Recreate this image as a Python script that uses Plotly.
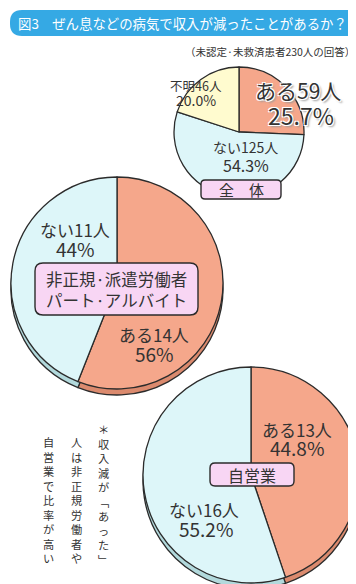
import plotly.graph_objects as go

W, H = 356, 584

# ---- data ----
total_cats = ["ある", "ない", "不明"]
total_counts = [59, 125, 46]
total_pcts = ["25.7%", "54.3%", "20.0%"]

irregular_cats = ["ある", "ない"]
irregular_counts = [14, 11]
irregular_pcts = ["56%", "44%"]

self_cats = ["ある", "ない"]
self_counts = [13, 16]
self_pcts = ["44.8%", "55.2%"]

title_text = "図3　ぜん息などの病気で収入が減ったことがあるか？"
subtitle_text = "（未認定·未救済患者230人の回答）"
group_names = ["全　体", "非正規·派遣労働者<br>パート·アルバイト", "自営業"]
note_cols = ["＊収入減が﹁あった﹂", "人は非正規労働者や", "自営業で比率が高い"]

# ---- style ----
FONT = "Noto Sans CJK JP, Noto Sans, sans-serif"
TXT = "#333333"
COL = {"ある": "#F5A78B", "ない": "#DDF6F9", "不明": "#FFFBCF"}
SHD = {"ある": "#DB8A6E", "ない": "#B2D9DC", "不明": "#E5E0A8"}
OUT = "#2b2b2b"


def dom(cx, cy, r):
    return dict(x=[(cx - r) / W, (cx + r) / W], y=[1 - (cy + r) / H, 1 - (cy - r) / H])


def pie(cats, vals, cx, cy, r, shadow=False):
    cmap = SHD if shadow else COL
    return go.Pie(
        labels=cats, values=vals, sort=False, direction="clockwise", rotation=0,
        marker=dict(colors=[cmap[c] for c in cats], line=dict(color=OUT, width=1.3)),
        textinfo="none", hoverinfo="skip", showlegend=False,
        domain=dom(cx, cy, r),
    )


def rrect(x0, y0, x1, y1, r):
    return (f"M{x0+r},{y0} L{x1-r},{y0} Q{x1},{y0} {x1},{y0+r} L{x1},{y1-r} "
            f"Q{x1},{y1} {x1-r},{y1} L{x0+r},{y1} Q{x0},{y1} {x0},{y1-r} "
            f"L{x0},{y0+r} Q{x0},{y0} {x0+r},{y0} Z")


fig = go.Figure()
fig.add_trace(go.Scatter(x=[0, W], y=[0, H], mode="none", hoverinfo="skip", showlegend=False))

# pies (bottom first)
fig.add_trace(pie(self_cats, self_counts, 243, 473, 108, shadow=True))
fig.add_trace(pie(self_cats, self_counts, 243, 467, 108))
fig.add_trace(pie(irregular_cats, irregular_counts, 109, 281, 106, shadow=True))
fig.add_trace(pie(irregular_cats, irregular_counts, 109, 275, 106))
fig.add_trace(pie(total_cats, total_counts, 231, 124, 65))

shapes = [
    dict(type="path", path=rrect(2, 2, 351, 28, 12), fillcolor="#35A9E4",
         line=dict(width=0), layer="above"),
    dict(type="path", path=rrect(193, 172, 273, 191, 4), fillcolor="#F8D6F4",
         line=dict(color=OUT, width=1.4), layer="above"),
    dict(type="path", path=rrect(27, 255, 190, 307, 8), fillcolor="#F8D6F4",
         line=dict(color=OUT, width=1.4), layer="above"),
    dict(type="path", path=rrect(202, 455, 286, 478, 5), fillcolor="#F8D6F4",
         line=dict(color=OUT, width=1.4), layer="above"),
]

ann = []


def txt(x, y, s, size, color=TXT, xanchor="center", yanchor="middle", shadow=None):
    f = dict(family=FONT, size=size, color=color)
    if shadow:
        f["shadow"] = shadow
    ann.append(dict(x=x, y=y, xref="x", yref="y", text=s, showarrow=False,
                    xanchor=xanchor, yanchor=yanchor, font=f, borderpad=0))


txt(9, 15, title_text, 13.4, color="white", xanchor="left")
txt(348, 43, subtitle_text, 10.5, xanchor="right")

halo = ("1px 1px 0 #fff, -1px -1px 0 #fff, 1px -1px 0 #fff, -1px 1px 0 #fff, "
        "2px 2px 2px #999")

# total
txt(290, 82, f"{total_cats[0]}{total_counts[0]}人", 21, shadow=halo)
txt(293, 107, total_pcts[0], 23, shadow=halo)
txt(237, 139, f"{total_cats[1]}{total_counts[1]}人", 14)
txt(238, 157, total_pcts[1], 16)
txt(188, 77, f"{total_cats[2]}{total_counts[2]}人", 12.5)
txt(188, 92, total_pcts[2], 14)
txt(233, 181.5, group_names[0], 15)

# irregular
txt(146, 326, f"{irregular_cats[0]}{irregular_counts[0]}人", 17)
txt(146, 345, irregular_pcts[0], 19)
txt(67, 221, f"{irregular_cats[1]}{irregular_counts[1]}人", 17)
txt(67, 240, irregular_pcts[1], 19)
txt(108, 281, group_names[1], 16.5)

# self-employed
txt(289, 421, f"{self_cats[0]}{self_counts[0]}人", 17)
txt(289, 439, self_pcts[0], 19)
txt(196, 501, f"{self_cats[1]}{self_counts[1]}人", 17)
txt(198, 520, self_pcts[1], 19)
txt(244, 466.5, group_names[2], 16)

# vertical note (one column per annotation, one character per line)
col_x = [95, 68, 40]
col_top = [412, 425, 425]
for cx, y0, s in zip(col_x, col_top, note_cols):
    txt(cx, y0, "<br>".join(s), 11.2, yanchor="top")

fig.update_layout(
    width=W, height=H, margin=dict(l=0, r=0, t=0, b=0),
    paper_bgcolor="white", plot_bgcolor="white",
    xaxis=dict(range=[0, W], visible=False, fixedrange=True, domain=[0, 1]),
    yaxis=dict(range=[H, 0], visible=False, fixedrange=True, domain=[0, 1]),
    shapes=shapes, annotations=ann,
)

fig.write_html("out.html", config={"displayModeBar": False})
